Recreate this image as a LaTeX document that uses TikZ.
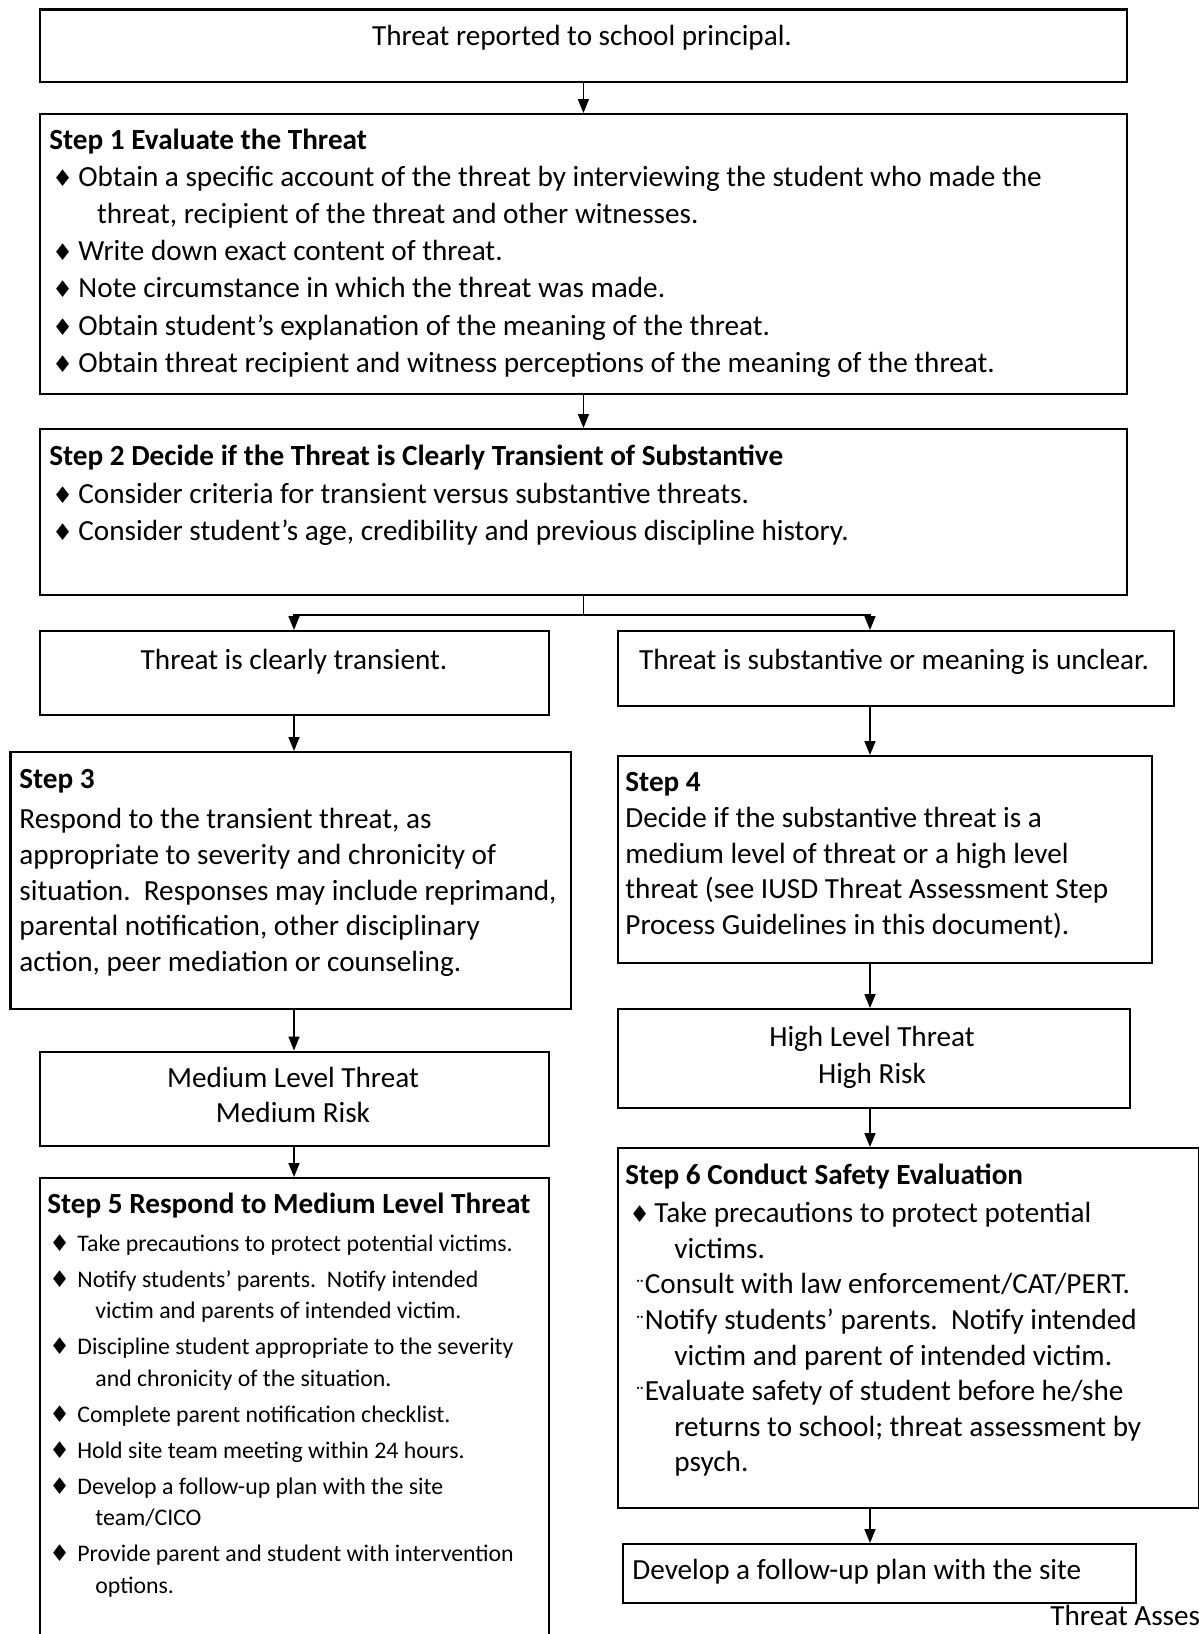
\documentclass[tikz,border=0pt]{standalone}
\usepackage{fontspec}
\setmainfont{Carlito}
\newfontfamily\symfont{DejaVu Sans}
\usetikzlibrary{arrows.meta}

\newcommand{\dm}[1][12.5pt]{\makebox[#1][l]{\symfont\fontsize{11.5}{11.5}\selectfont ♦}}
\newcommand{\dd}{\hspace*{5pt}\makebox[4.75pt][c]{\fontsize{10}{10}\selectfont ¨}}

\begin{document}
\begin{tikzpicture}[x=0.5pt, y=-0.5pt,
  box/.style={draw, line width=1.2pt, inner sep=0pt, anchor=north west},
  txt/.style={inner sep=0pt, align=left, anchor=base west},
  mid/.style={inner sep=0pt, align=center, anchor=base},
  body/.style={font=\fontsize{14.6}{18.65}\selectfont},
  head/.style={font=\fontsize{14.6}{18.65}\selectfont\bfseries},
  arr/.style={line width=0.8pt, -{Triangle[length=7pt, width=5.5pt]}}]
\useasboundingbox (0,0) rectangle (1199,1634);
\clip (0,0) rectangle (1199,1634);

\node[box, minimum width=543.75pt, minimum height=36.35pt] (top) at (38.5,8.3) {};
\node[mid, body] (topt) at (582,45.2) {Threat reported to school principal.};

\node[box, minimum width=543.75pt, minimum height=140pt] (s1) at (38.5,113) {};
\node[txt, head] (s1h) at (49,149.3) {Step 1 Evaluate the Threat};
\node[txt, body] (s1t) at (49,372.5) {%
\hspace*{1.5pt}\dm[13pt]Obtain a specific account of the threat by interviewing the student who made the\\
\hspace*{23.8pt}threat, recipient of the threat and other witnesses.\\
\hspace*{1.5pt}\dm[13pt]Write down exact content of threat.\\
\hspace*{1.5pt}\dm[13pt]Note circumstance in which the threat was made.\\
\hspace*{1.5pt}\dm[13pt]Obtain student’s explanation of the meaning of the threat.\\
\hspace*{1.5pt}\dm[13pt]Obtain threat recipient and witness perceptions of the meaning of the threat.};

\node[box, minimum width=543.75pt, minimum height=82.75pt] (s2) at (38.5,428) {};
\node[txt, head] (s2h) at (49,465) {Step 2 Decide if the Threat is Clearly Transient of Substantive};
\node[txt, body] (s2t) at (49,540.3) {%
\hspace*{1.5pt}\dm[13pt]Consider criteria for transient versus substantive threats.\\
\hspace*{1.5pt}\dm[13pt]Consider student’s age, credibility and previous discipline history.};

\node[box, minimum width=254.75pt, minimum height=42pt] (tr) at (38.5,630) {};
\node[mid, body] (trt) at (294,669) {Threat is clearly transient.};
\node[box, minimum width=278pt, minimum height=37.5pt] (sb) at (617,630) {};
\node[mid, body] (sbt) at (894,669) {Threat is substantive or meaning is unclear.};

\node[box, minimum width=280.3pt, minimum height=128.25pt] (s3) at (9.4,751) {};
\node[txt, head] (s3h) at (19,788.5) {Step 3};
\node[txt, font=\fontsize{14.6}{17.8}\selectfont] (s3t) at (19,971.3) {%
Respond to the transient threat, as\\
appropriate to severity and chronicity of\\
situation.\ \ Responses may include reprimand,\\
parental notification, other disciplinary\\
action, peer mediation or counseling.};

\node[box, minimum width=267pt, minimum height=103.5pt] (s4) at (617,755) {};
\node[txt, head] (s4h) at (625,791.3) {Step 4};
\node[txt, font=\fontsize{14.6}{17.8}\selectfont] (s4t) at (625,934.5) {%
Decide if the substantive threat is a\\
medium level of threat or a high level\\
threat (see IUSD Threat Assessment Step\\
Process Guidelines in this document).};

\node[box, minimum width=254.75pt, minimum height=47pt] (md) at (38.5,1050.5) {};
\node[mid, font=\fontsize{14.6}{17.85}\selectfont] (mdt) at (293,1122.7) {Medium Level Threat\\Medium Risk};
\node[box, minimum width=256pt, minimum height=49.5pt] (hi) at (617,1008) {};
\node[mid, font=\fontsize{14.6}{18.2}\selectfont] (hit) at (872,1083) {High Level Threat\\High Risk};

\node[box, minimum width=254.75pt, minimum height=250pt] (s5) at (38.5,1177) {};
\node[txt, head] (s5h) at (47,1213.8) {Step 5 Respond to Medium Level Threat};
\node[txt, font=\fontsize{11.9}{15.75}\selectfont] (s5t) at (47,1593) {%
\hspace*{1pt}\dm[14pt]Take precautions to protect potential victims.\\[2.25pt]
\hspace*{1pt}\dm[14pt]Notify students’ parents.\ \ Notify intended\\
\hspace*{24pt}victim and parents of intended victim.\\[2.25pt]
\hspace*{1pt}\dm[14pt]Discipline student appropriate to the severity\\
\hspace*{24pt}and chronicity of the situation.\\[2.25pt]
\hspace*{1pt}\dm[14pt]Complete parent notification checklist.\\[2.25pt]
\hspace*{1pt}\dm[14pt]Hold site team meeting within 24 hours.\\[2.25pt]
\hspace*{1pt}\dm[14pt]Develop a follow-up plan with the site\\
\hspace*{24pt}team/CICO\\[2.25pt]
\hspace*{1pt}\dm[14pt]Provide parent and student with intervention\\
\hspace*{24pt}options.};

\node[box, minimum width=290.5pt, minimum height=180pt] (s6) at (617,1147) {};
\node[txt, head] (s6h) at (625,1184) {Step 6 Conduct Safety Evaluation};
\node[txt, font=\fontsize{14.6}{17.8}\selectfont] (s6t) at (625,1471.9) {%
\hspace*{2pt}\dm[12.5pt]Take precautions to protect potential\\
\hspace*{24.5pt}victims.\\
\dd Consult with law enforcement/CAT/PERT.\\
\dd Notify students’ parents.\ \ Notify intended\\
\hspace*{24.5pt}victim and parent of intended victim.\\
\dd Evaluate safety of student before he/she\\
\hspace*{24.5pt}returns to school; threat assessment by\\
\hspace*{24.5pt}psych.};

\node[box, minimum width=256.5pt, minimum height=29.5pt] (fu) at (622,1543) {};
\node[txt, body] (fut) at (632,1579) {Develop a follow-up plan with the site};
\node[txt, body] (foot) at (1050,1625.5) {Threat Asses};

\coordinate (lc) at (294,0);
\coordinate (rc) at (870,0);
\draw[arr] (top.south) -- (s1.north);
\draw[arr] (s1.south) -- (s2.north);
\draw[arr] (s2.south) -- ++(0,19) coordinate (br) -| (tr.north -| lc);
\draw[arr] (br) -| (sb.north -| rc);
\draw[arr] (tr.south -| lc) -- (s3.north -| lc);
\draw[arr] (sb.south -| rc) -- (s4.north -| rc);
\draw[arr] (s3.south -| lc) -- (md.north -| lc);
\draw[arr] (s4.south -| rc) -- (hi.north -| rc);
\draw[arr] (md.south -| lc) -- (s5.north -| lc);
\draw[arr] (hi.south -| rc) -- (s6.north -| rc);
\draw[arr] (s6.south -| rc) -- (fu.north -| rc);
\end{tikzpicture}
\end{document}
